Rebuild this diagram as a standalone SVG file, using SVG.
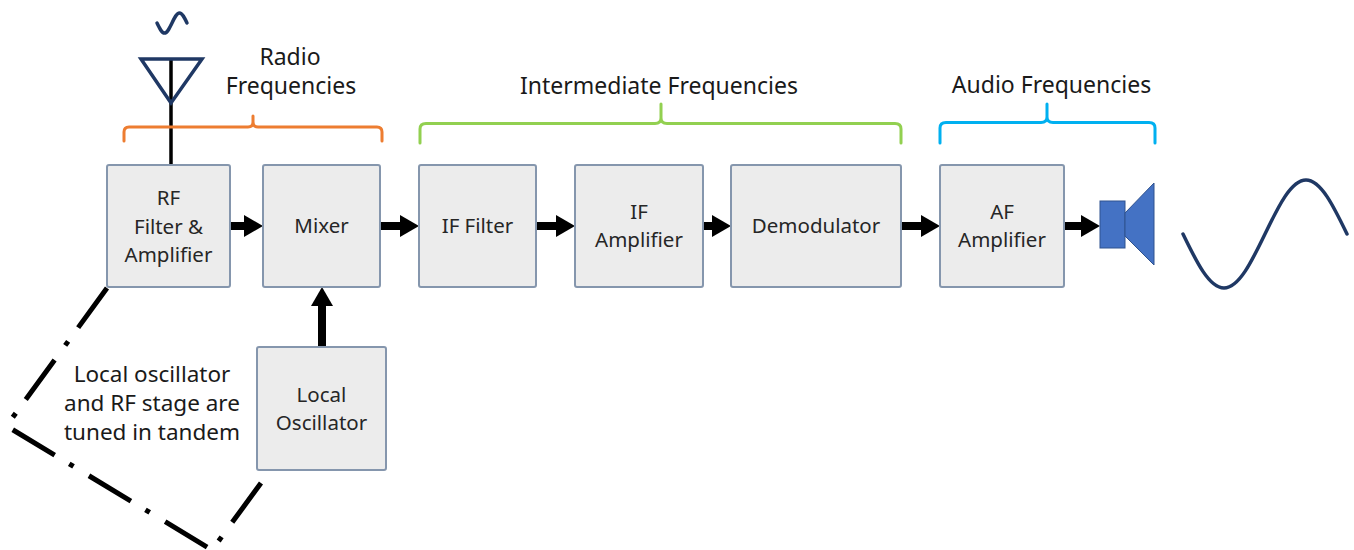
<svg xmlns="http://www.w3.org/2000/svg" width="1354" height="550" viewBox="0 0 1354 550">
<style>
.box{fill:#ececec;stroke:#8596ad;stroke-width:2}
.bt{font-family:"Noto Sans","Open Sans","DejaVu Sans",sans-serif;font-size:20.5px;fill:#262626;text-anchor:middle}
.ht{font-family:"Noto Sans","Open Sans","DejaVu Sans",sans-serif;font-size:23px;fill:#1a1a1a;text-anchor:middle}
.arr{stroke:#000;stroke-width:8;fill:none;marker-end:url(#ah)}
.br{fill:none;stroke-width:3;stroke-linecap:round;stroke-linejoin:round}
.navy{fill:none;stroke:#1f3864;stroke-width:3.5;stroke-linecap:round;stroke-linejoin:round}
</style>
<defs>
<marker id="ah" markerUnits="userSpaceOnUse" markerWidth="19" markerHeight="22" viewBox="0 0 19 22" refX="0" refY="11" orient="auto">
<path d="M0,0 L19,11 L0,22 Z" fill="#000"/>
</marker>
</defs>
<rect width="1354" height="550" fill="#fff"/>

<g id="antenna">
<path class="navy" d="M157,23 C159.45,28.12 161.79,33 164.5,33 C167.21,33 169.55,28.12 172,23 C174.45,17.88 176.79,13 179.5,13 C182.21,13 184.55,17.88 187,23"/>
<line x1="171" y1="58" x2="171" y2="166" stroke="#000" stroke-width="3.5"/>
<path d="M141,59 L202,59 L171,103 Z" fill="none" stroke="#1f3864" stroke-width="3.5" stroke-linejoin="miter"/>
</g>

<g id="brackets">
<path class="br" stroke="#ed7d31" d="M124,141 L124,132 Q124,127 129,127 L248,127 Q253,127 253,122 L253,116 L253,122 Q253,127 258,127 L377,127 Q382,127 382,132 L382,141"/>
<text class="ht" x="290" y="65">Radio</text>
<text class="ht" x="291" y="94">Frequencies</text>
<path class="br" stroke="#92d050" d="M420,143 L420,129 Q420,123.5 426,123.5 L655,123.5 Q661,123.5 661,118 L661,104 L661,118 Q661,123.5 667,123.5 L895,123.5 Q901,123.5 901,129 L901,143"/>
<text class="ht" x="659" y="94">Intermediate Frequencies</text>
<path class="br" stroke="#00b0f0" d="M940,143 L940,128 Q940,122.5 946,122.5 L1041,122.5 Q1047,122.5 1047,117 L1047,104 L1047,117 Q1047,122.5 1053,122.5 L1149,122.5 Q1155,122.5 1155,128 L1155,143"/>
<text class="ht" x="1051.5" y="93">Audio Frequencies</text>
</g>

<g id="connectors">
<line class="arr" x1="230" y1="226" x2="244" y2="226"/>
<line class="arr" x1="380" y1="226" x2="400" y2="226"/>
<line class="arr" x1="536" y1="226" x2="556" y2="226"/>
<line class="arr" x1="703" y1="226" x2="712" y2="226"/>
<line class="arr" x1="901" y1="226" x2="921" y2="226"/>
<line class="arr" x1="1064" y1="226" x2="1081" y2="226"/>
<line class="arr" x1="322" y1="347" x2="322" y2="306"/>
<polyline points="107,288 6.5,426 212,550 261,483" fill="none" stroke="#000" stroke-width="5" stroke-dasharray="49 17 5 18" stroke-linecap="butt" stroke-linejoin="round"/>
</g>

<g id="rf">
<rect class="box" x="107" y="165" width="123" height="122" rx="2"/>
<text class="bt" x="168.5" y="205">RF</text>
<text class="bt" x="168.5" y="233.5">Filter &amp;</text>
<text class="bt" x="168.5" y="262">Amplifier</text>
</g>
<g id="mixer">
<rect class="box" x="263" y="165" width="117" height="122" rx="2"/>
<text class="bt" x="321.5" y="233">Mixer</text>
</g>
<g id="iffilter">
<rect class="box" x="419" y="165" width="117" height="122" rx="2"/>
<text class="bt" x="477.5" y="233">IF Filter</text>
</g>
<g id="ifamp">
<rect class="box" x="575" y="165" width="128" height="122" rx="2"/>
<text class="bt" x="639" y="218.5">IF</text>
<text class="bt" x="639" y="247">Amplifier</text>
</g>
<g id="demod">
<rect class="box" x="731" y="165" width="170" height="122" rx="2"/>
<text class="bt" x="816" y="233">Demodulator</text>
</g>
<g id="afamp">
<rect class="box" x="940" y="165" width="124" height="122" rx="2"/>
<text class="bt" x="1002" y="218.5">AF</text>
<text class="bt" x="1002" y="247">Amplifier</text>
</g>
<g id="lo">
<rect class="box" x="257" y="347" width="129" height="123" rx="2"/>
<text class="bt" x="321.5" y="401.5">Local</text>
<text class="bt" x="321.5" y="430">Oscillator</text>
</g>
<g id="note">
<text class="ht" x="152" y="381.5" style="font-size:22.5px">Local oscillator</text>
<text class="ht" x="152" y="410.5" style="font-size:22.5px">and RF stage are</text>
<text class="ht" x="152" y="440" style="font-size:22.5px">tuned in tandem</text>
</g>
<g id="speaker">
<rect x="1100" y="201" width="25" height="47" fill="#4472c4" stroke="#2f528f" stroke-width="1"/>
<polygon points="1125,213 1154,183 1154,265 1125,236" fill="#4472c4" stroke="#2f528f" stroke-width="1"/>
</g>
<g id="wave">
<path class="navy" d="M1183,234 C1196.37,261.66 1209.16,288 1224,288 C1238.84,288 1251.63,261.66 1265,234 C1278.37,206.34 1291.16,180 1306,180 C1320.84,180 1333.63,206.34 1347,234"/>
</g>
</svg>
